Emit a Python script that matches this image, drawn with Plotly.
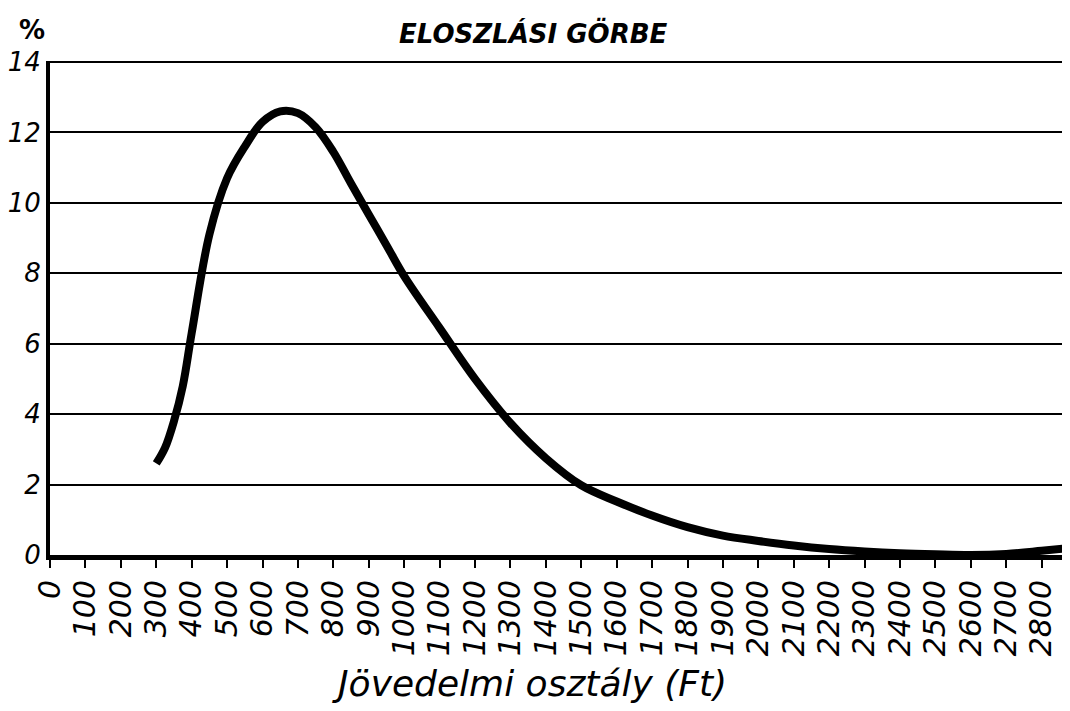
import plotly.graph_objects as go

# Data
income = [300, 325, 350, 375, 400, 450, 500, 550, 600, 650, 700, 750, 800, 850, 900, 950,
          1000, 1100, 1200, 1300, 1400, 1500, 1600, 1700, 1800, 1900, 2000,
          2100, 2200, 2300, 2400, 2500, 2600, 2700, 2800, 2880]
percent = [2.6, 3.05, 3.8, 4.8, 6.3, 9.1, 10.7, 11.6, 12.3, 12.6, 12.55, 12.15, 11.45, 10.55, 9.67, 8.8,
           7.92, 6.45, 5.0, 3.75, 2.75, 1.98, 1.52, 1.12, 0.79, 0.55, 0.4,
           0.27, 0.17, 0.1, 0.05, 0.02, 0.0, 0.03, 0.12, 0.2]

x_ticks = list(range(0, 2900, 100))
x_tick_labels = [str(v) for v in x_ticks]
y_ticks = [0, 2, 4, 6, 8, 10, 12, 14]
y_tick_labels = [str(v) for v in y_ticks]

title_text = "ELOSZLÁSI GÖRBE"
x_title = "Jövedelmi osztály (Ft)"
y_unit = "%"

FONT = "DejaVu Sans"

# page body has an 8px margin; plot area target: x 45..1070, y 61..555 (page px)
OFF = 8
L, T, R, B = 45, 61, 1070, 555
PW, PH = R - L, B - T


def px(x):
    return (x - L) / PW


def py(y):
    return (B - y) / PH


fig = go.Figure()
fig.add_trace(go.Scatter(
    x=income, y=percent, mode="lines",
    line=dict(color="black", width=8, shape="spline", smoothing=1.0),
    hoverinfo="skip", showlegend=False,
))

fig.update_layout(
    width=1070 - OFF, height=711 - OFF,
    margin=dict(l=L - OFF, r=0, t=T - OFF, b=711 - B, pad=0),
    paper_bgcolor="white", plot_bgcolor="white",
    showlegend=False,
    xaxis=dict(
        range=[0, 2880], tickvals=x_ticks, ticktext=x_tick_labels,
        tickangle=-90, ticks="outside", ticklen=8, tickwidth=2, tickcolor="black",
        showgrid=False, zeroline=False,
        showline=True, linewidth=5, linecolor="black",
        tickfont=dict(family=FONT, size=30, color="black", style="italic"),
    ),
    yaxis=dict(
        range=[0, 14.03], tickvals=y_ticks, ticktext=y_tick_labels,
        ticks="", showgrid=True, gridcolor="black", gridwidth=2,
        zeroline=False, showline=True, linewidth=4, linecolor="black",
        tickfont=dict(family=FONT, size=26, color="black", style="italic"),
    ),
    annotations=[
        dict(text=title_text, xref="paper", yref="paper",
             x=px(531), y=py(33), xanchor="center", yanchor="middle",
             showarrow=False,
             font=dict(family=FONT, size=26, color="black", style="italic", weight="bold")),
        dict(text=x_title, xref="paper", yref="paper",
             x=px(527), y=py(683), xanchor="center", yanchor="middle",
             showarrow=False,
             font=dict(family=FONT, size=36, color="black", style="italic")),
        dict(text=y_unit, xref="paper", yref="paper",
             x=px(27), y=py(30), xanchor="center", yanchor="middle",
             showarrow=False,
             font=dict(family=FONT, size=26, color="black", weight="bold")),
    ],
)

fig.write_html("out.html")
